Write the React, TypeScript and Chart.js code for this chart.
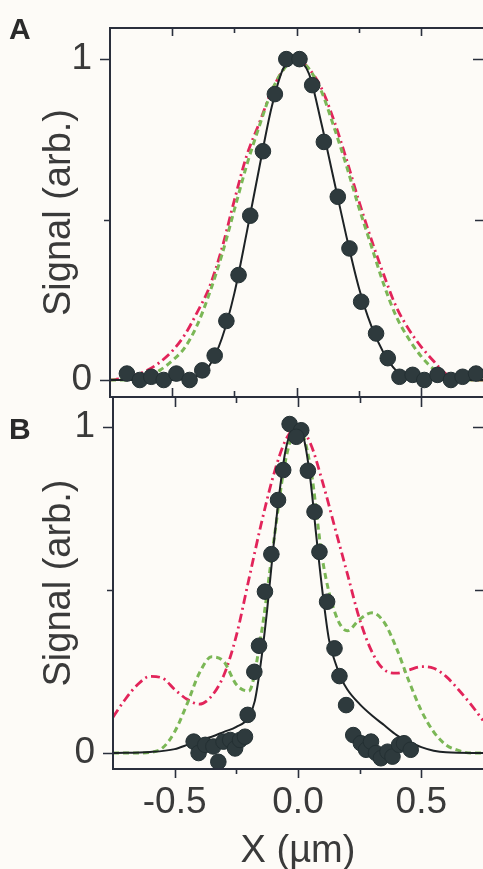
import React, { useEffect, useRef } from 'react';
import { Chart, registerables } from 'chart.js';

Chart.register(...registerables);

// ---------------- shared grid for model curves ----------------
const gridX = [
  -0.75, -0.7, -0.65, -0.6, -0.55, -0.5, -0.45, -0.4, -0.35, -0.3, -0.25,
  -0.2, -0.15, -0.1, -0.05, 0, 0.05, 0.1, 0.15, 0.2, 0.25, 0.3, 0.35, 0.4,
  0.45, 0.5, 0.55, 0.6, 0.65, 0.7, 0.75,
];

// ---------------- Panel A ----------------
const aPointX = [
  -0.682, -0.63, -0.584, -0.534, -0.483, -0.43, -0.379, -0.329, -0.282, -0.233,
  -0.186, -0.135, -0.087, -0.041, 0.012, 0.063, 0.11, 0.166, 0.213, 0.26, 0.32,
  0.367, 0.414, 0.467, 0.514, 0.567, 0.621, 0.668, 0.722,
];
const aPointY = [
  0.02, 0.0, 0.01, 0.0, 0.02, 0.0, 0.03, 0.076, 0.184, 0.327, 0.512, 0.713,
  0.891, 1.0, 1.0, 0.919, 0.742, 0.571, 0.41, 0.244, 0.145, 0.068, 0.01, 0.016,
  0.0, 0.016, 0.0, 0.01, 0.02,
];
const aFitY = [
  0, 0, 0, 0, 0, 0, 0.003, 0.012, 0.045, 0.13, 0.27, 0.46, 0.66, 0.85, 0.975,
  0.995, 0.955, 0.8, 0.625, 0.45, 0.29, 0.17, 0.085, 0.03, 0.006, 0, 0, 0, 0, 0, 0,
];
const aRedY = [
  0, 0.005, 0.015, 0.03, 0.055, 0.09, 0.14, 0.21, 0.29, 0.41, 0.56, 0.7, 0.8,
  0.9, 0.97, 1.0, 0.97, 0.91, 0.81, 0.69, 0.56, 0.44, 0.33, 0.23, 0.16, 0.105,
  0.06, 0.02, 0.005, 0, 0,
];
const aGreenY = [
  0, 0, 0.003, 0.01, 0.03, 0.06, 0.1, 0.17, 0.27, 0.39, 0.53, 0.67, 0.79, 0.9,
  0.97, 1.0, 0.97, 0.9, 0.79, 0.67, 0.54, 0.42, 0.3, 0.2, 0.13, 0.075, 0.035,
  0.01, 0, 0, 0,
];

// ---------------- Panel B ----------------
const bPointX = [
  -0.034, 0.013, -0.007, -0.06, 0.04, -0.081, 0.067, -0.108, 0.087, -0.134,
  0.118, -0.158, 0.148, -0.177, 0.168, -0.204, 0.195, 0.224, -0.423, -0.403,
  -0.376, -0.343, -0.323, -0.302, -0.275, -0.255, -0.235, -0.215, 0.255, 0.276,
  0.296, 0.316, 0.336, 0.363, 0.383, 0.41, 0.43, 0.457,
];
const bPointY = [
  1.009, 0.99, 0.97, 0.868, 0.866, 0.776, 0.74, 0.61, 0.617, 0.495, 0.464, 0.329,
  0.321, 0.249, 0.236, 0.117, 0.147, 0.055, 0.035, 0.0, 0.025, 0.02, -0.027,
  0.035, 0.04, 0.014, 0.04, 0.05, 0.03, 0.01, 0.035, 0.0, -0.016, 0.004, -0.011,
  0.025, 0.03, 0.01,
];
const bFitX = [
  -0.75, -0.6, -0.5, -0.45, -0.4, -0.35, -0.3, -0.25, -0.2, -0.175, -0.15,
  -0.125, -0.1, -0.075, -0.05, -0.025, 0, 0.025, 0.05, 0.075, 0.1, 0.125, 0.15,
  0.175, 0.2, 0.25, 0.3, 0.35, 0.4, 0.45, 0.5, 0.55, 0.6, 0.75,
];
const bFitY = [
  0, 0.003, 0.012, 0.025, 0.04, 0.05, 0.065, 0.08, 0.11, 0.16, 0.28, 0.44, 0.63,
  0.8, 0.93, 0.99, 1.0, 0.96, 0.84, 0.66, 0.49, 0.35, 0.28, 0.23, 0.195, 0.15,
  0.115, 0.085, 0.055, 0.035, 0.018, 0.007, 0.002, 0,
];
const bRedY = [
  0.11, 0.165, 0.21, 0.235, 0.23, 0.195, 0.165, 0.15, 0.175, 0.24, 0.36, 0.53,
  0.7, 0.85, 0.96, 1.0, 0.95, 0.83, 0.69, 0.55, 0.41, 0.31, 0.255, 0.245, 0.255,
  0.265, 0.26, 0.235, 0.195, 0.15, 0.1,
];
const bGreenY = [
  0, 0, 0, 0.002, 0.015, 0.065, 0.15, 0.245, 0.295, 0.28, 0.21, 0.19, 0.36, 0.64,
  0.9, 1.0, 0.88, 0.59, 0.43, 0.375, 0.41, 0.43, 0.4, 0.32, 0.22, 0.13, 0.065,
  0.025, 0.008, 0, 0,
];

// ---------------- tick labels ----------------
const xLabelValues = [-0.5, 0, 0.5];
const xLabelTexts = ['-0.5', '0.0', '0.5'];
const yLabelValues = [0, 1];
const yLabelTexts = ['0', '1'];
const xMarkValues = [-0.5, -0.25, 0, 0.25, 0.5];
const xMajorValues = [-0.5, 0, 0.5];
const yMarkValues = [0, 0.5, 1];
const yMajorValues = [0, 1];

// ---------------- styles ----------------
const BG = '#fdfbf7';
const AXIS = '#2a2f3c';
const TEXT = '#3a3a3a';
const MARK = '#2e3a3d';
const MARK_EDGE = '#243033';
const FIT = '#1d2225';
const RED = '#e2245a';
const GREEN = '#7bb756';
const FONT = '"Liberation Sans", Arial, Helvetica, sans-serif';

const pts = (xs: number[], ys: number[]) => xs.map((x, i) => ({ x, y: ys[i] }));
const near = (a: number, b: number) => Math.abs(a - b) < 1e-6;
const isIn = (v: number, list: number[]) => list.some((u) => near(u, v));

function xLabel(v: number) {
  const i = xLabelValues.findIndex((u) => near(u, v));
  return i >= 0 ? xLabelTexts[i] : '';
}
function yLabel(v: number) {
  const i = yLabelValues.findIndex((u) => near(u, v));
  return i >= 0 ? yLabelTexts[i] : '';
}

function zeroPadding(s: any) {
  s.paddingTop = 0;
  s.paddingBottom = 0;
  s.paddingLeft = 0;
  s.paddingRight = 0;
}

type FrameOpts = {
  drawTop: boolean;
  topDown: [number, number];
  bottomUp: [number, number];
  bottomDown: [number, number];
};

function framePlugin(o: FrameOpts) {
  return {
    id: 'frame',
    afterDraw(chart: any) {
      const { ctx, chartArea: a, scales } = chart;
      const xs = scales.x;
      const ys = scales.y;
      ctx.save();
      ctx.strokeStyle = AXIS;
      ctx.lineWidth = 2;
      ctx.beginPath();
      ctx.moveTo(a.left, a.top);
      ctx.lineTo(a.left, a.bottom);
      ctx.moveTo(a.left - 1, a.bottom);
      ctx.lineTo(a.right, a.bottom);
      if (o.drawTop) {
        ctx.moveTo(a.left - 1, a.top);
        ctx.lineTo(a.right, a.top);
      }
      ctx.stroke();

      ctx.lineWidth = 1.6;
      ctx.beginPath();
      for (const v of xMarkValues) {
        const px = Math.round(xs.getPixelForValue(v)) + 0.5;
        const major = isIn(v, xMajorValues) ? 0 : 1;
        if (o.topDown[major] > 0) {
          ctx.moveTo(px, a.top);
          ctx.lineTo(px, a.top + o.topDown[major]);
        }
        if (o.bottomUp[major] > 0) {
          ctx.moveTo(px, a.bottom);
          ctx.lineTo(px, a.bottom - o.bottomUp[major]);
        }
        if (o.bottomDown[major] > 0) {
          ctx.moveTo(px, a.bottom);
          ctx.lineTo(px, a.bottom + o.bottomDown[major]);
        }
      }
      for (const v of yMarkValues) {
        const py = Math.round(ys.getPixelForValue(v)) + 0.5;
        const len = isIn(v, yMajorValues) ? 10 : 6;
        ctx.moveTo(a.left - len, py);
        ctx.lineTo(a.left, py);
        if (v > 0.25) {
          ctx.moveTo(a.right, py);
          ctx.lineTo(a.right - (isIn(v, yMajorValues) ? 10 : 8), py);
        }
      }
      ctx.stroke();
      ctx.restore();
    },
  };
}

function datasetsFor(px: number[], py: number[], fx: number[], fy: number[], ry: number[], gy: number[]) {
  return [
    {
      data: pts(px, py),
      showLine: false,
      pointRadius: 7.8,
      pointBackgroundColor: MARK,
      pointBorderColor: MARK_EDGE,
      pointBorderWidth: 1,
    },
    {
      data: pts(fx, fy),
      showLine: true,
      borderColor: FIT,
      borderWidth: 2,
      pointRadius: 0,
      cubicInterpolationMode: 'monotone',
    },
    {
      data: pts(gridX, gy),
      showLine: true,
      borderColor: GREEN,
      borderWidth: 3,
      borderDash: [6, 4],
      pointRadius: 0,
      cubicInterpolationMode: 'monotone',
    },
    {
      data: pts(gridX, ry),
      showLine: true,
      borderColor: RED,
      borderWidth: 2.8,
      borderDash: [9, 4, 2, 4],
      pointRadius: 0,
      cubicInterpolationMode: 'monotone',
    },
  ];
}

function yScale(min: number, max: number, width: number) {
  return {
    type: 'linear',
    min,
    max,
    afterBuildTicks: (s: any) => {
      s.ticks = yMarkValues.map((value) => ({ value }));
    },
    afterFit: (s: any) => {
      s.width = width;
      zeroPadding(s);
    },
    grid: { display: false, drawTicks: false },
    border: { display: false },
    ticks: {
      autoSkip: false,
      padding: 18,
      color: TEXT,
      font: { family: FONT, size: 37 },
      callback: (v: any) => yLabel(Number(v)),
    },
    title: {
      display: true,
      text: 'Signal (arb.)',
      color: TEXT,
      font: { family: FONT, size: 38, lineHeight: 1 },
      padding: { top: 41, bottom: 0 },
    },
  };
}

export default function App() {
  const refA = useRef<HTMLCanvasElement | null>(null);
  const refB = useRef<HTMLCanvasElement | null>(null);

  useEffect(() => {
    const chartA = new Chart(refA.current as HTMLCanvasElement, {
      type: 'scatter',
      data: { datasets: datasetsFor(aPointX, aPointY, gridX, aFitY, aRedY, aGreenY) as any },
      options: {
        animation: false,
        responsive: false,
        events: [],
        layout: { autoPadding: false, padding: { top: 28, bottom: 3, left: 0, right: 0 } },
        plugins: { legend: { display: false }, tooltip: { enabled: false } },
        scales: {
          x: {
            type: 'linear',
            min: -0.75,
            max: 0.75,
            display: false,
            afterFit: (s: any) => zeroPadding(s),
          } as any,
          y: yScale(-0.053, 1.097, 110) as any,
        },
      },
      plugins: [framePlugin({ drawTop: true, topDown: [8, 5], bottomUp: [9, 6], bottomDown: [0, 0] })],
    });

    const chartB = new Chart(refB.current as HTMLCanvasElement, {
      type: 'scatter',
      data: { datasets: datasetsFor(bPointX, bPointY, bFitX, bFitY, bRedY, bGreenY) as any },
      options: {
        animation: false,
        responsive: false,
        events: [],
        layout: { autoPadding: false, padding: { top: 0, bottom: 0, left: 0, right: 0 } },
        plugins: { legend: { display: false }, tooltip: { enabled: false } },
        scales: {
          x: {
            type: 'linear',
            min: -0.75,
            max: 0.75,
            afterBuildTicks: (s: any) => {
              s.ticks = xLabelValues.map((value) => ({ value }));
            },
            afterFit: (s: any) => {
              s.height = 100;
              zeroPadding(s);
            },
            grid: { display: false, drawTicks: false },
            border: { display: false },
            ticks: {
              autoSkip: false,
              maxRotation: 0,
              padding: 12,
              color: TEXT,
              font: { family: FONT, size: 37 },
              callback: (v: any) => xLabel(Number(v)),
            },
            title: {
              display: true,
              text: 'X (µm)',
              color: TEXT,
              font: { family: FONT, size: 38, lineHeight: 0.9 },
              padding: { top: 0, bottom: 0 },
            },
          } as any,
          y: yScale(-0.049, 1.092, 113) as any,
        },
      },
      plugins: [framePlugin({ drawTop: false, topDown: [10, 6], bottomUp: [0, 0], bottomDown: [9, 5] })],
    });

    return () => {
      chartA.destroy();
      chartB.destroy();
    };
  }, []);

  const panelLabel: React.CSSProperties = {
    position: 'absolute',
    left: 9,
    fontFamily: FONT,
    fontWeight: 'bold',
    fontSize: 30,
    lineHeight: '30px',
    color: '#2a2a2a',
    margin: 0,
  };

  return (
    <div
      style={{
        position: 'absolute',
        left: 0,
        top: 0,
        width: 483,
        height: 869,
        background: BG,
        overflow: 'hidden',
      }}
    >
      <canvas ref={refA} width={483} height={400} style={{ position: 'absolute', left: 0, top: 0 }} />
      <canvas ref={refB} width={483} height={472} style={{ position: 'absolute', left: 0, top: 397 }} />
      <div style={{ ...panelLabel, top: 14 }}>A</div>
      <div style={{ ...panelLabel, top: 414 }}>B</div>
    </div>
  );
}
